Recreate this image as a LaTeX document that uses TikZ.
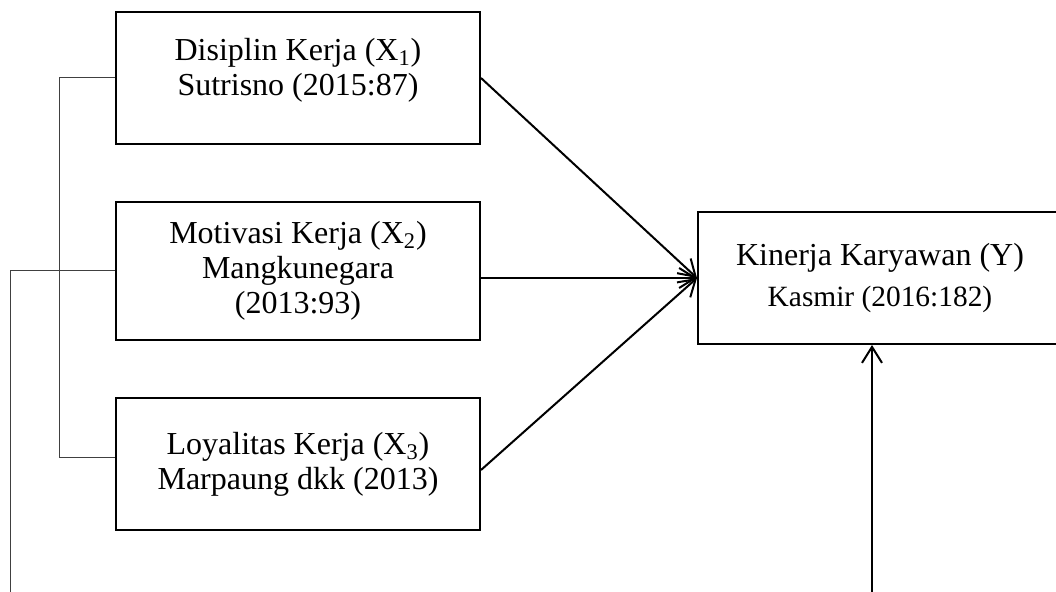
\documentclass[tikz,border=0pt]{standalone}
\usepackage{fontspec}
\setmainfont{Liberation Serif}
\usetikzlibrary{arrows.meta,calc}

\begin{document}
\begin{tikzpicture}
[x=0.5pt, y=-0.5pt,
box/.style={draw, line width=1pt, align=center, minimum width=182pt, minimum height=66pt, inner sep=0pt,
  font=\fontsize{16}{17.5}\selectfont},
link/.style={line width=0.5pt, draw=black!75},
flow/.style={line width=1pt, -{Straight Barb[length=8pt,width=10pt,line width=1pt]}}]
\useasboundingbox (0,0) rectangle (1056,592);
\clip (0,0) rectangle (1056,592);
% variabel bebas
\node[box, text depth=11pt] (X1) at (298,78) {Disiplin Kerja (X\textsubscript{1})\\Sutrisno (2015:87)};
\node[box, minimum height=69pt] (X2) at (298,271) {Motivasi Kerja (X\textsubscript{2})\\Mangkunegara\\(2013:93)};
\node[box] (X3) at (298,464) {Loyalitas Kerja (X\textsubscript{3})\\Marpaung dkk (2013)};
% variabel terikat
\node[box] (Y) at (880,278) {Kinerja Karyawan (Y)\\[3pt]{\fontsize{14.7}{16}\selectfont Kasmir (2016:182)}};
\coordinate (bl) at (10,600);
\coordinate (br) at (872,600);
\draw[link] (X1.west) -- ++(-56,0) |- ([yshift=3pt]X3.west);
\draw[link] (X2.west) -| (bl);
\draw[flow] (X1.east) -- (Y.west);
\draw[flow] (X2.east |- Y.west) -- (Y.west);
\draw[flow] ([yshift=-3pt]X3.east) -- (Y.west);
\draw[flow] (br) -- (br |- Y.south);
\end{tikzpicture}
\end{document}
